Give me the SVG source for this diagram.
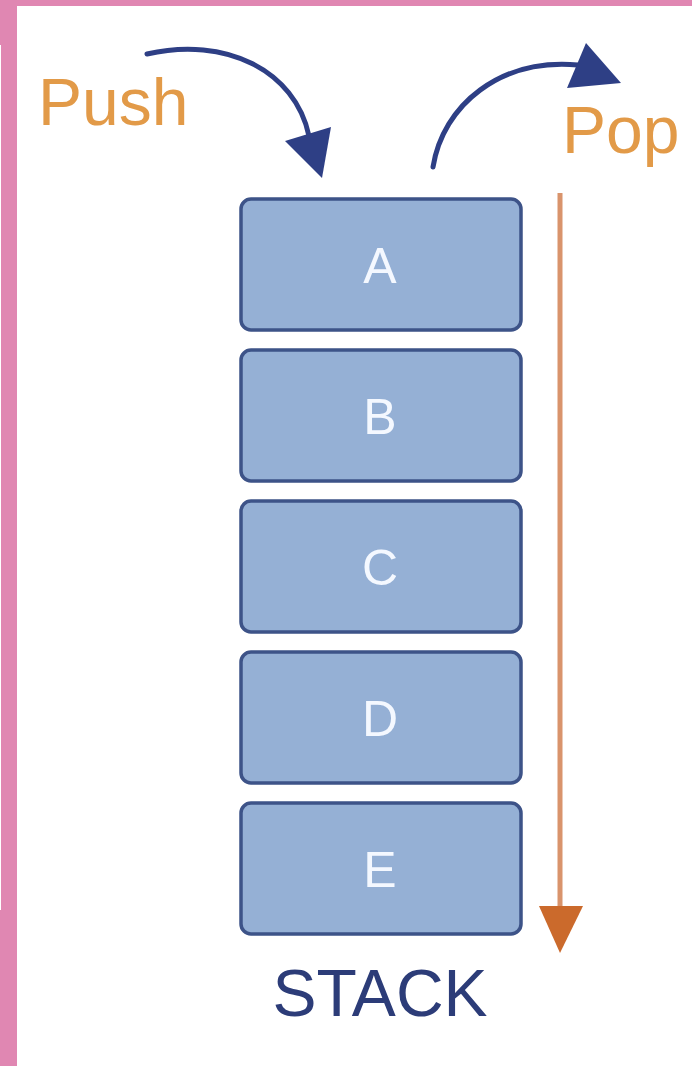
<svg xmlns="http://www.w3.org/2000/svg" width="692" height="1066" viewBox="0 0 692 1066">
  <style>
    .box { fill: #95B0D5; stroke: #3D5388; stroke-width: 3.5; }
    .lbl { font-family: "Liberation Sans", Arial, sans-serif; font-size: 50px; fill: #F4F8FF; text-anchor: middle; }
    .op { font-family: "Liberation Sans", Arial, sans-serif; font-size: 66px; fill: #E29A48; }
    .blue { fill: none; stroke: #2E3F85; stroke-width: 5; stroke-linecap: round; }
  </style>
  <rect x="0" y="0" width="692" height="1066" fill="#FFFFFF"/>
  <rect x="0" y="0" width="692" height="6" fill="#E087B2"/>
  <rect x="0" y="0" width="17" height="1066" fill="#E087B2"/>
  <rect x="0" y="45" width="1" height="865" fill="#FFFFFF"/>

  <g id="push-label"><text class="op" x="38" y="125">Push</text></g>
  <g id="pop-label"><text class="op" x="562" y="153">Pop</text></g>

  <g id="node-A"><rect class="box" x="241" y="199" width="280" height="131" rx="10"/><text class="lbl" x="380" y="283">A</text></g>
  <g id="node-B"><rect class="box" x="241" y="350" width="280" height="131" rx="10"/><text class="lbl" x="380" y="434">B</text></g>
  <g id="node-C"><rect class="box" x="241" y="501" width="280" height="131" rx="10"/><text class="lbl" x="380" y="585">C</text></g>
  <g id="node-D"><rect class="box" x="241" y="652" width="280" height="131" rx="10"/><text class="lbl" x="380" y="736">D</text></g>
  <g id="node-E"><rect class="box" x="241" y="803" width="280" height="131" rx="10"/><text class="lbl" x="380" y="887">E</text></g>

  <g id="stack-label"><text x="380" y="1016" font-family="Liberation Sans, Arial, sans-serif" font-size="66" fill="#2C3C78" text-anchor="middle">STACK</text></g>

  <g id="connectors">
    <path class="blue" d="M147,54 C225,36 295,70 309,136"/>
    <polygon points="285,141 331,127 322,178" fill="#2E3F85"/>
    <path class="blue" d="M433,167 C443,105 500,58 578,65"/>
    <polygon points="586,43 621,83 567,88" fill="#2E3F85"/>
    <line x1="560" y1="193" x2="560" y2="912" stroke="#D9946C" stroke-width="5"/>
    <polygon points="539,906 583,906 560,953" fill="#CB6A2C"/>
  </g>
</svg>
